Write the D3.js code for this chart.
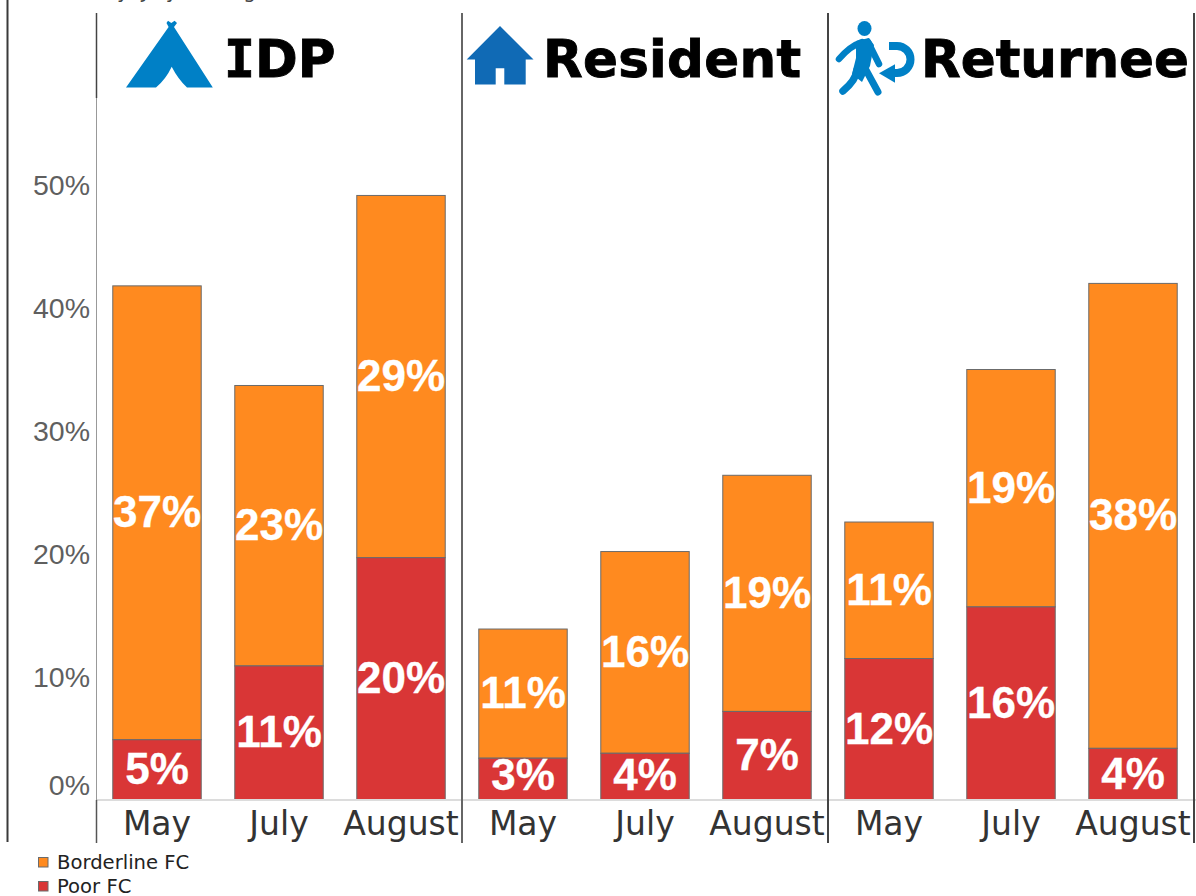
<!DOCTYPE html>
<html><head><meta charset="utf-8">
<script src="https://cdn.jsdelivr.net/npm/d3@7"></script>
<style>html,body{margin:0;padding:0;background:#fff;overflow:hidden}svg{display:block}</style>
</head><body><svg id="c" width="1196" height="896"></svg>
<script>
const groups = ["IDP", "Resident", "Returnee"];
const months = ["May", "July", "August"];
const poor = [[4.9, 10.9, 19.7], [3.4, 3.8, 7.2], [11.5, 15.7, 4.2]];
const borderline = [[36.9, 22.8, 29.45], [10.5, 16.4, 19.2], [11.1, 19.3, 37.8]];
const yTicks = [0, 10, 20, 30, 40, 50];
const legendLabels = ["Borderline FC", "Poor FC"];
const clippedHeader = ["May, July,", "August"];

const SANS = "'Liberation Sans', Arial, sans-serif", DJ = "'DejaVu Sans', sans-serif", MONO = "'DejaVu Sans Mono', monospace";
const orange = "#ff8a1f", red = "#d93636", edge = "#6b6b6b";
const svg = d3.select("#c");
const y = d3.scaleLinear().domain([0, 50]).range([800, 185]);
const facet = d3.scaleBand().domain(groups).range([96, 1194]);

const hdr = svg.append("text").attr("x", 87.6).attr("y", -2.5).attr("font-family", DJ).attr("font-size", 20).attr("fill", "#444");
hdr.append("tspan").text(clippedHeader[0]);
hdr.append("tspan").attr("dx", 33).text(clippedHeader[1]);

// y axis
const ya = svg.append("g").attr("transform", "translate(96,0)")
  .call(d3.axisLeft(y).tickValues(yTicks).tickSize(0).tickPadding(6).tickFormat(d => d + "%"));
ya.select(".domain").remove();
ya.selectAll("text").attr("font-family", SANS).attr("font-size", 28.5).attr("fill", "#5f5f5f")
  .attr("dy", d => d === 0 ? "-0.2em" : "0.32em");

groups.forEach((g, gi) => {
  const x0 = facet(g), w = facet.bandwidth();
  const x = d3.scaleBand().domain(months).range([x0, x0 + w]).paddingInner(0.275).paddingOuter(0.1375);
  const rows = months.map((m, i) => ({ m, p: poor[gi][i], b: borderline[gi][i] }));
  const layer = svg.append("g");
  layer.selectAll("rect.b").data(rows).join("rect").attr("class", "b")
    .attr("x", d => x(d.m)).attr("width", x.bandwidth())
    .attr("y", d => y(d.p + d.b)).attr("height", d => y(d.p) - y(d.p + d.b))
    .attr("fill", orange).attr("stroke", edge).attr("stroke-width", 1);
  layer.selectAll("rect.p").data(rows).join("rect").attr("class", "p")
    .attr("x", d => x(d.m)).attr("width", x.bandwidth())
    .attr("y", d => y(d.p)).attr("height", d => y(0) - y(d.p))
    .attr("fill", red).attr("stroke", edge).attr("stroke-width", 1);
  const lab = (sel, acc, mid) => sel.data(rows).join("text")
    .attr("x", d => x(d.m) + x.bandwidth() / 2).attr("y", mid).attr("dy", "0.33em")
    .attr("text-anchor", "middle").attr("font-family", SANS).attr("font-weight", "bold")
    .attr("font-size", 44).attr("fill", "#fff").attr("stroke", "#fff").attr("stroke-width", 0.3)
    .text(d => d3.format(".0f")(acc(d)) + "%");
  lab(layer.selectAll("text.b"), d => d.b, d => (y(d.p) + y(d.p + d.b)) / 2);
  lab(layer.selectAll("text.p"), d => d.p, d => Math.min((y(0) + y(d.p)) / 2, 775));
  const xa = svg.append("g").attr("transform", "translate(0,800)")
    .call(d3.axisBottom(x).tickSize(0).tickPadding(12));
  xa.select(".domain").remove();
  xa.selectAll("text").attr("font-family", DJ).attr("font-size", 33).attr("fill", "#333");
});

// base line and dividers
svg.append("line").attr("x1", 96).attr("x2", 1196).attr("y1", 800).attr("y2", 800).attr("stroke", "#dcdcdc").attr("stroke-width", 2);
const line = (x, a, b, c, sw) => svg.append("line").attr("x1", x).attr("x2", x).attr("y1", a).attr("y2", b).attr("stroke", c).attr("stroke-width", sw);
line(7.5, 0, 842, "#3a3a3a", 2);
line(96.5, 13, 98, "#444", 1.5);
line(96.5, 98, 800, "#999", 1);
line(96.5, 800, 843, "#555", 1.5);
line(462, 13, 843, "#666", 2);
line(828, 13, 843, "#444", 2);
line(1194, 13, 843, "#444", 2);

// titles
const titleX = [224, 543, 921];
const titleW = [null, 258, 268];
groups.forEach((g, i) => {
  const t = svg.append("text").attr("x", titleX[i]).attr("y", 77)
    .attr("font-family", DJ).attr("font-weight", "bold").attr("font-size", 51.5).attr("fill", "#000")
    .attr("stroke", "#000").attr("stroke-width", 0.9);
  if (titleW[i]) {
    t.attr("textLength", titleW[i]).attr("lengthAdjust", "spacing").text(g);
  } else {
    t.append("tspan").attr("font-family", MONO).text(g[0]);
    t.append("tspan").text(g.slice(1));
  }
});

// icons
svg.append("path").attr("fill", "#0080c6")
  .attr("d", "M166.5,23 L168,20.8 L171.3,23 L174.6,20.8 L177,23 L174,27 L212.8,87.5 L187,87.5 Q178,79 171.7,66.7 Q166,79 156,87.5 L126,87.5 L168.6,27 Z");
svg.append("path").attr("fill", "#106ab5")
  .attr("d", "M500,26 L533.5,59.5 L525.7,59.5 L525.7,84.5 L504.3,84.5 L504.3,68.3 L495.7,68.3 L495.7,84.5 L475,84.5 L475,59.5 L466.7,59.5 Z");
const walker = svg.append("g").attr("fill", "#0080c6");
walker.append("ellipse").attr("cx", 864.5).attr("cy", 28.5).attr("rx", 7).attr("ry", 7.5);
walker.append("path").attr("d", "M856,41 L869,38 L874,45 L870,66 L862,82 L852,74 L856,58 Z");
const wl = walker.append("g").attr("fill", "none").attr("stroke", "#0080c6").attr("stroke-linecap", "round").attr("stroke-linejoin", "round");
wl.append("path").attr("stroke-width", 6.5).attr("d", "M862,42 Q850,46 839,59");
wl.append("path").attr("stroke-width", 6.5).attr("d", "M868,42 L879,64");
wl.append("path").attr("stroke-width", 7.5).attr("d", "M857,70 Q856,80 843,91");
wl.append("path").attr("stroke-width", 7).attr("d", "M866,70 L878,92");
wl.append("path").attr("stroke-width", 8).attr("stroke-linecap", "butt").attr("d", "M889,46 H897 A13.5,13.5 0 1 1 897,73 H892");
walker.append("path").attr("d", "M879,73.3 L895,64.3 L895,82.7 Z");

// legend
legendLabels.forEach((t, i) => {
  const yy = [857, 881][i];
  svg.append("rect").attr("x", 38.5).attr("y", yy + .5).attr("width", 9.5).attr("height", 9.5)
    .attr("fill", [orange, red][i]).attr("stroke", edge).attr("stroke-width", 1);
  svg.append("text").attr("x", 57).attr("y", [869, 893][i]).attr("font-family", DJ).attr("font-size", 19.6).attr("fill", "#222").text(t);
});
</script></body></html>
